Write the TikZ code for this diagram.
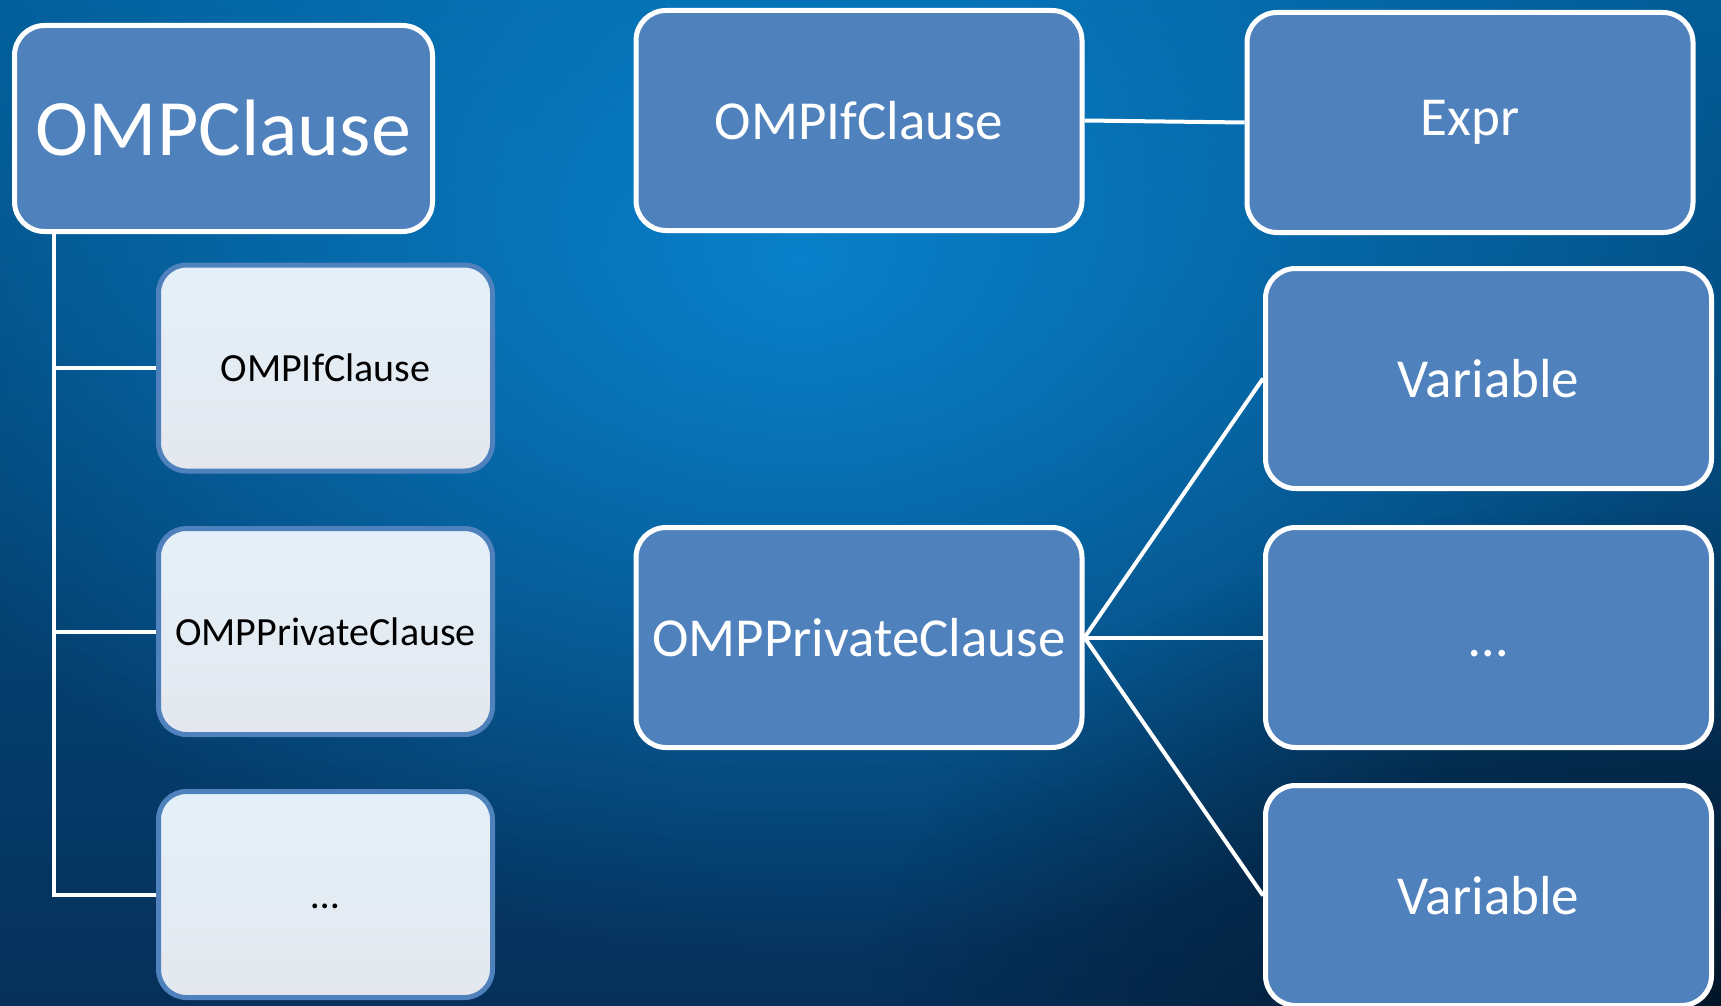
\documentclass[tikz,border=0pt]{standalone}
\usepackage{fontspec}
\setmainfont{Carlito}
\usepackage{tikz}
\usetikzlibrary{fadings}

\definecolor{bgtop}{RGB}{2,92,150}
\definecolor{bgmid}{RGB}{4,100,166}
\definecolor{bgbot}{RGB}{6,48,90}
\definecolor{glow}{RGB}{10,134,210}
\definecolor{boxblue}{RGB}{79,129,189}
\definecolor{paletop}{RGB}{228,240,249}
\definecolor{palebot}{RGB}{228,232,238}

\tikzfading[name=softglow, inner color=transparent!0, outer color=transparent!100]

\tikzset{
	darkbox/.style={draw=white, line width=5pt, rounded corners=30pt, fill=boxblue,
		text=white, inner sep=0pt, minimum width=446pt, minimum height=220pt,
		font=\fontsize{55}{66}\selectfont},
	palebox/.style={draw=boxblue, line width=5pt, rounded corners=28pt,
		top color=paletop, bottom color=palebot, text=black, inner sep=0pt,
		minimum width=334pt, minimum height=206pt, font=\fontsize{40}{48}\selectfont},
	link/.style={draw=white, line width=4pt}
}

\begin{document}
\begin{tikzpicture}[x=1pt, y=-1pt]
	\useasboundingbox (0,0) rectangle (1721,1006);

	% Background
	\shade[top color=bgtop, middle color=bgmid, bottom color=bgbot] (0,0) rectangle (1721,1006);
	\fill[glow, path fading=softglow, opacity=0.9] (800,260) ellipse (950 and 700);
	\fill[black, path fading=softglow, opacity=0.55] (1721,1006) ellipse (850 and 520);

	% Left: OMPClause and its kinds
	\node (clause) at (223.5,128.5) [darkbox, minimum width=418pt, minimum height=206pt,
		font=\fontsize{80}{96}\selectfont] {OMPClause};
	\node (kindif) at (325.5,368) [palebox] {OMPIfClause};
	\node (kindpriv) at (325.5,631.5) [palebox] {OMPPrivateClause};
	\node (kindmore) at (325.5,894.5) [palebox] {\vphantom{OMPIfClause}\dots};

	\coordinate (trunk) at ([xshift=41.5pt]clause.south west);
	\draw[link] (trunk) |- (kindmore.west);
	\draw[link] (trunk |- kindif.west) -- (kindif.west);
	\draw[link] (trunk |- kindpriv.west) -- (kindpriv.west);

	% Right: the if clause
	\node (ifclause) at (859,120.5) [darkbox] {OMPIfClause};
	\node (expr) at (1470,122.5) [darkbox] {Expr};
	\draw[link] (ifclause.east) -- (expr.west);

	% Right: the private clause
	\node (private) at (859,637.5) [darkbox] {OMPPrivateClause};
	\node (varone) at (1488.5,378.5) [darkbox] {Variable};
	\node (varmore) at (1488.5,637.5) [darkbox] {\vphantom{Variable}\dots};
	\node (vartwo) at (1488.5,895.5) [darkbox] {Variable};

	\draw[link] (private.east) -- (varone.west);
	\draw[link] (private.east) -- (varmore.west);
	\draw[link] (private.east) -- (vartwo.west);

\end{tikzpicture}
\end{document}
